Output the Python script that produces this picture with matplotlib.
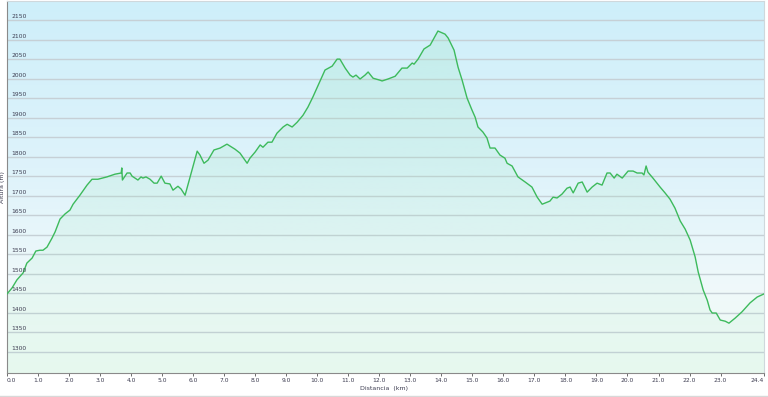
import numpy as np
import matplotlib
matplotlib.use("Agg")
import matplotlib.pyplot as plt
from matplotlib.colors import LinearSegmentedColormap
from matplotlib.lines import Line2D

dist_km = [
    0.00, 0.16, 0.32, 0.52, 0.64, 0.81, 0.93, 1.06, 1.16, 1.29,
    1.45, 1.55, 1.71, 1.87, 2.03, 2.13, 2.35, 2.58, 2.74, 2.93,
    3.22, 3.48, 3.68, 3.70, 3.72, 3.87, 3.97, 4.03, 4.22, 4.32,
    4.38, 4.48, 4.61, 4.74, 4.84, 4.97, 5.09, 5.25, 5.35, 5.51,
    5.61, 5.74, 5.96, 6.13, 6.22, 6.35, 6.48, 6.67, 6.87, 7.09,
    7.35, 7.51, 7.74, 7.83, 8.00, 8.16, 8.25, 8.41, 8.54, 8.70,
    8.90, 9.03, 9.19, 9.35, 9.54, 9.70, 9.86, 10.03, 10.25, 10.48,
    10.64, 10.73, 10.90, 11.06, 11.15, 11.25, 11.38, 11.54, 11.64, 11.80,
    12.02, 12.09, 12.28, 12.51, 12.73, 12.90, 13.06, 13.12, 13.25, 13.44,
    13.64, 13.73, 13.89, 14.12, 14.22, 14.41, 14.54, 14.67, 14.83, 14.99,
    15.09, 15.18, 15.34, 15.47, 15.57, 15.73, 15.89, 16.05, 16.12, 16.28,
    16.47, 16.70, 16.92, 17.09, 17.25, 17.41, 17.50, 17.60, 17.73, 17.89,
    18.05, 18.15, 18.25, 18.41, 18.54, 18.70, 18.86, 19.02, 19.18, 19.34,
    19.44, 19.57, 19.66, 19.83, 20.02, 20.18, 20.31, 20.47, 20.53, 20.60,
    20.66, 20.82, 21.05, 21.21, 21.37, 21.53, 21.70, 21.86, 22.02, 22.18,
    22.28, 22.44, 22.57, 22.66, 22.73, 22.86, 22.99, 23.15, 23.27, 23.47,
    23.69, 23.95, 24.18, 24.40]
alt_m = [
    1448, 1463, 1484, 1502, 1527, 1540, 1558, 1560, 1560, 1568,
    1591, 1607, 1640, 1653, 1663, 1678, 1701, 1727, 1742, 1742,
    1748, 1755, 1758, 1771, 1740, 1758, 1758, 1750, 1740, 1748,
    1745, 1748, 1742, 1732, 1732, 1750, 1732, 1730, 1714, 1724,
    1717, 1701, 1765, 1814, 1804, 1783, 1791, 1817, 1822, 1832,
    1819, 1809, 1783, 1796, 1812, 1830, 1824, 1837, 1837, 1860,
    1876, 1883, 1876, 1888, 1906, 1927, 1953, 1983, 2022, 2032,
    2050, 2050, 2027, 2009, 2004, 2009, 1999, 2009, 2017, 2001,
    1996, 1994, 1999, 2006, 2027, 2027, 2040, 2037, 2050, 2076,
    2086, 2099, 2122, 2114, 2104, 2073, 2029, 1996, 1950, 1919,
    1901, 1876, 1863, 1848, 1822, 1822, 1804, 1796, 1783, 1776,
    1748, 1735, 1722, 1696, 1678, 1683, 1686, 1696, 1694, 1704,
    1719, 1722, 1707, 1732, 1735, 1709, 1722, 1732, 1727, 1758,
    1758, 1745, 1755, 1745, 1763, 1763, 1758, 1758, 1753, 1776,
    1760, 1745, 1722, 1707, 1691, 1668, 1635, 1614, 1586, 1543,
    1504, 1458, 1432, 1407, 1399, 1399, 1381, 1378, 1373, 1386,
    1402, 1425, 1440, 1448]

xticks = [0, 1, 2, 3, 4, 5, 6, 7, 8, 9, 10, 11, 12, 13, 14, 15, 16, 17, 18, 19,
          20, 21, 22, 23, 24.4]
xtick_labels = ["0.0", "1.0", "2.0", "3.0", "4.0", "5.0", "6.0", "7.0", "8.0",
                "9.0", "10.0", "11.0", "12.0", "13.0", "14.0", "15.0", "16.0",
                "17.0", "18.0", "19.0", "20.0", "21.0", "22.0", "23.0", "24.4"]
yticks = [1300, 1350, 1400, 1450, 1500, 1550, 1600, 1650, 1700, 1750, 1800,
          1850, 1900, 1950, 2000, 2050, 2100, 2150]

W, H = 768, 397
fig = plt.figure(figsize=(W / 100, H / 100), dpi=100)
fig.patch.set_facecolor("white")
ax = fig.add_axes([7 / W, (H - 372.7) / H, (764 - 7) / W, (372.7 - 1) / H])

XMIN, XMAX = 0, 24.4
YMIN, YMAX = 1246, 2199
ax.set_xlim(XMIN, XMAX)
ax.set_ylim(YMIN, YMAX)

# background gradient (bottom -> top)
bg_cmap = LinearSegmentedColormap.from_list(
    "bg", [(0.0, (236 / 255, 251 / 255, 242 / 255)),
           (0.22, (240 / 255, 249 / 255, 250 / 255)),
           (0.55, (222 / 255, 243 / 255, 251 / 255)),
           (1.0, (206 / 255, 239 / 255, 250 / 255))])
grad = np.linspace(0, 1, 256).reshape(-1, 1)
ax.imshow(grad, cmap=bg_cmap, aspect="auto", origin="lower",
          extent=[XMIN, XMAX, YMIN, YMAX], zorder=0, interpolation="bilinear")

# grid lines
for yv in yticks:
    ax.axhline(yv, color="#c6d0d6", lw=1.0, zorder=1)

# gradient fill under the profile
poly = ax.fill_between(dist_km, alt_m, YMIN, color="none", lw=0, zorder=2)
n = 256
t = np.linspace(0, 1, n).reshape(-1, 1)  # 0 bottom, 1 top
rgba = np.zeros((n, 1, 4))
rgba[..., 0] = 150 / 255
rgba[..., 1] = 230 / 255
rgba[..., 2] = 185 / 255
rgba[..., 3] = 0.06 + 0.16 * t
fill_img = ax.imshow(rgba, aspect="auto", origin="lower",
                     extent=[XMIN, XMAX, YMIN, max(alt_m)], zorder=2,
                     interpolation="bilinear")
fill_img.set_clip_path(poly.get_paths()[0], transform=ax.transData)

ax.plot(dist_km, alt_m, color="#3dba5c", lw=1.0, zorder=3)

# y tick labels inside plot
for yv in yticks:
    ax.annotate(str(yv), xy=(0, yv), xycoords=("axes fraction", "data"),
                xytext=(3, 2.4), textcoords="offset points",
                ha="left", va="center", fontsize=4.3, color="#3c3c50")
ax.set_yticks([])

ax.set_xticks(xticks)
ax.set_xticklabels(xtick_labels)
ax.tick_params(axis="x", length=2, width=0.6, color="#555555", labelsize=4.3,
               labelcolor="#3c3c50", pad=2)
labels = ax.get_xticklabels()
labels[0].set_ha("left")
labels[-1].set_ha("right")

for s in ["top", "right"]:
    ax.spines[s].set_color("#cfd8dc")
    ax.spines[s].set_linewidth(0.8)
for s in ["left", "bottom"]:
    ax.spines[s].set_color("#8a8a8a")
    ax.spines[s].set_linewidth(0.8)

fig.text(384 / W, 1 - 388.7 / H, "Distancia  (km)", ha="center", va="center",
         fontsize=4.5, color="#3c3c50")
fig.text(3 / W, 1 - 187 / H, "Altura (m)", ha="center", va="center",
         rotation=90, fontsize=4.5, color="#3c3c50")

fig.add_artist(Line2D([0, 1], [1 - 396 / H, 1 - 396 / H], transform=fig.transFigure,
                      color="#d8d8d8", lw=1.0))

fig.savefig("out.png", dpi=100, facecolor="white")
